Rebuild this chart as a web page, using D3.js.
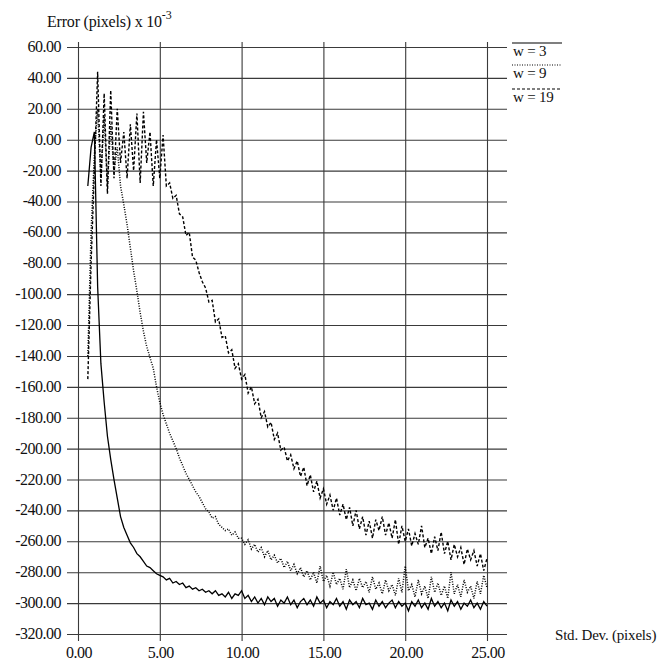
<!DOCTYPE html>
<html>
<head>
<meta charset="utf-8">
<script src="https://cdn.jsdelivr.net/npm/d3@7"></script>
<style>
  body { margin: 0; background: #fff; }
  text { font-family: "Liberation Serif", "DejaVu Serif", serif; fill: #111; }
</style>
</head>
<body>
<div id="chart"></div>
<script>
// std. dev. samples (pixels)
const stdDev = [
  0.6,0.8,1.0,1.2,1.4,1.6,1.8,2.0,2.2,2.4,
  2.6,2.8,3.0,3.2,3.4,3.6,3.8,4.0,4.2,4.4,
  4.6,4.8,5.0,5.2,5.4,5.6,5.8,6.0,6.2,6.4,
  6.6,6.8,7.0,7.2,7.4,7.6,7.8,8.0,8.2,8.4,
  8.6,8.8,9.0,9.2,9.4,9.6,9.8,10.0,10.2,10.4,
  10.6,10.8,11.0,11.2,11.4,11.6,11.8,12.0,12.2,12.4,
  12.6,12.8,13.0,13.2,13.4,13.6,13.8,14.0,14.2,14.4,
  14.6,14.8,15.0,15.2,15.4,15.6,15.8,16.0,16.2,16.4,
  16.6,16.8,17.0,17.2,17.4,17.6,17.8,18.0,18.2,18.4,
  18.6,18.8,19.0,19.2,19.4,19.6,19.8,20.0,20.2,20.4,
  20.6,20.8,21.0,21.2,21.4,21.6,21.8,22.0,22.2,22.4,
  22.6,22.8,23.0,23.2,23.4,23.6,23.8,24.0,24.2,24.4,
  24.6,24.8,25.0
];

// error (pixels x 10^-3) for each window size
const errW3 = [
  -30,-5,5,-95,-145,-170,-192,-207,-220,-232,
  -244,-251,-256,-261,-264,-268,-270,-273,-276,-277,
  -279,-281,-282,-283,-285,-284,-287,-286,-288,-287,
  -290,-289,-291,-290,-292,-291,-293,-292,-294,-292,
  -295,-294,-296,-293,-297,-294,-295,-292,-297,-295,
  -299,-296,-300,-297,-301,-296,-299,-297,-302,-298,
  -300,-296,-301,-298,-303,-299,-297,-301,-298,-302,
  -296,-300,-298,-303,-299,-301,-297,-302,-299,-304,
  -298,-301,-299,-303,-297,-301,-300,-304,-298,-302,
  -299,-303,-300,-298,-303,-299,-302,-300,-305,-299,
  -302,-298,-303,-300,-304,-297,-302,-299,-303,-300,
  -305,-298,-302,-299,-304,-300,-302,-298,-303,-300,
  -304,-299,-302
];

const errW9 = [
  -140,-60,-10,20,-25,15,-30,10,-20,-5,
  -30,-42,-55,-70,-85,-98,-112,-124,-134,-141,
  -148,-160,-170,-178,-184,-190,-195,-200,-206,-211,
  -216,-220,-224,-228,-231,-235,-239,-241,-245,-244,
  -249,-251,-253,-252,-256,-254,-258,-258,-262,-259,
  -265,-262,-267,-264,-270,-266,-272,-269,-274,-271,
  -277,-273,-279,-275,-281,-277,-283,-279,-285,-280,
  -287,-276,-286,-282,-289,-280,-288,-284,-291,-278,
  -290,-285,-292,-284,-290,-286,-293,-283,-291,-287,
  -294,-285,-292,-288,-295,-284,-293,-276,-292,-288,
  -296,-285,-294,-289,-297,-283,-293,-287,-295,-289,
  -297,-280,-294,-288,-296,-285,-293,-289,-297,-286,
  -294,-282,-290
];

const errW19 = [
  -155,-80,-20,44,-30,30,-35,32,-25,20,
  -15,5,-25,10,-20,17,-28,18,-15,5,
  -30,0,-25,3,-30,-28,-38,-36,-48,-50,
  -62,-60,-76,-78,-86,-92,-96,-105,-104,-118,
  -116,-128,-127,-138,-136,-148,-145,-155,-152,-164,
  -160,-171,-168,-180,-176,-186,-183,-194,-190,-201,
  -199,-208,-204,-213,-208,-218,-212,-224,-217,-228,
  -221,-232,-226,-236,-230,-240,-232,-243,-236,-246,
  -238,-250,-240,-252,-244,-256,-247,-258,-246,-253,
  -244,-256,-248,-258,-246,-262,-250,-260,-252,-263,
  -255,-262,-250,-264,-258,-268,-257,-266,-254,-268,
  -260,-272,-262,-270,-264,-275,-265,-272,-266,-276,
  -268,-279,-271
];

const xTicks = [0, 5, 10, 15, 20, 25];
const yTicks = [60, 40, 20, 0, -20, -40, -60, -80, -100, -120, -140, -160, -180,
                -200, -220, -240, -260, -280, -300, -320];
const legendLabels = ["w = 3", "w = 9", "w = 19"];

const W = 663, H = 665;
const svg = d3.select("#chart").append("svg")
    .attr("width", W)
    .attr("height", H);

const x = d3.scaleLinear().domain([0, 25]).range([78, 487]);
const y = d3.scaleLinear().domain([-320, 60]).range([634, 47]);

const gridColor = "#3a3a3a";
// plain hyphen, as in the original print
const fmt = d => d3.format(".2f")(d).replace("\u2212", "-");

// horizontal grid (extends left like ticks and past last vertical)
svg.append("g")
    .attr("transform", "translate(507,0)")
    .call(d3.axisLeft(y).tickValues(yTicks).tickSize(507 - 67).tickFormat(""))
    .call(g => g.select(".domain").remove())
    .selectAll(".tick line").attr("stroke", gridColor).attr("stroke-width", 1.1);

// vertical grid
svg.append("g")
    .attr("transform", "translate(0,641)")
    .call(d3.axisTop(x).tickValues(xTicks).tickSize(641 - 42).tickFormat(""))
    .call(g => g.select(".domain").remove())
    .selectAll(".tick line").attr("stroke", gridColor).attr("stroke-width", 1.1);

// y tick labels
svg.append("g").selectAll("text")
    .data(yTicks).enter().append("text")
    .attr("x", 61)
    .attr("y", d => y(d) + 5)
    .attr("text-anchor", "end")
    .style("font-size", "16px")
    .style("letter-spacing", "-0.5px")
    .text(fmt);

// x tick labels
svg.append("g").selectAll("text")
    .data(xTicks).enter().append("text")
    .attr("x", d => x(d) + 1)
    .attr("y", 658)
    .attr("text-anchor", "middle")
    .style("font-size", "16px")
    .style("letter-spacing", "-0.5px")
    .text(fmt);

// axis titles
const yTitle = svg.append("text")
    .attr("x", 47)
    .attr("y", 27)
    .style("font-size", "16px")
    .style("letter-spacing", "-0.2px");
yTitle.append("tspan").text("Error (pixels) x 10");
yTitle.append("tspan").attr("dy", -8).style("font-size", "12px").text("-3");

svg.append("text")
    .attr("x", 555)
    .attr("y", 640)
    .style("font-size", "15px")
    .style("letter-spacing", "-0.2px")
    .text("Std. Dev. (pixels)");

// curves
const series = [
  {vals: errW3, dash: null, width: 1.3},
  {vals: errW9, dash: "1,1.5", width: 1.5},
  {vals: errW19, dash: "3,2", width: 1.4}
];

const line = d3.line()
    .x(d => x(d[0]))
    .y(d => y(d[1]));

series.forEach(s => {
    svg.append("path")
        .datum(stdDev.map((v, i) => [v, s.vals[i]]))
        .attr("d", line)
        .attr("fill", "none")
        .attr("stroke", "#000")
        .attr("stroke-width", s.width)
        .attr("stroke-dasharray", s.dash);
});

// legend
const legendY = [43, 65, 89];
legendLabels.forEach((lab, i) => {
    svg.append("line")
        .attr("x1", 512).attr("x2", 562)
        .attr("y1", legendY[i]).attr("y2", legendY[i])
        .attr("stroke", "#000")
        .attr("stroke-width", 1.2)
        .attr("stroke-dasharray", series[i].dash);
    svg.append("text")
        .attr("x", 513)
        .attr("y", legendY[i] + 13)
        .style("font-size", "15px")
        .style("letter-spacing", "-0.2px")
        .text(lab);
});
</script>
</body>
</html>
